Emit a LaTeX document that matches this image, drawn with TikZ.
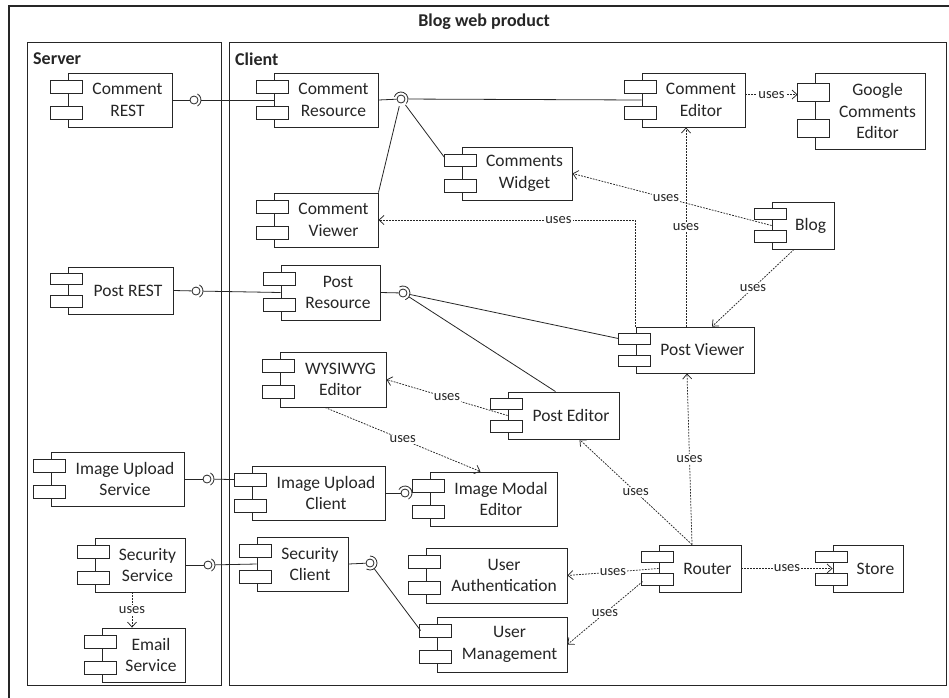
\documentclass[tikz,border=0pt]{standalone}
\usepackage{fontspec}
\setmainfont{Carlito}
\usetikzlibrary{calc,arrows.meta}

\definecolor{ink}{gray}{0.15}

\tikzset{
  compbox/.style={draw=ink, line width=0.9pt, fill=white, inner sep=0pt},
  comptext/.style={text=ink, font=\fontsize{17.5}{21.5}\selectfont, align=center, inner sep=0pt},
  tabbox/.style={draw=ink, line width=0.9pt, fill=white},
  dep/.style={draw=ink, line width=0.75pt, dash pattern=on 1.8pt off 1.2pt,
    -{Straight Barb[length=5pt,width=9pt]}},
  lbl/.style={fill=white, text=ink, font=\fontsize{14.5}{16}\selectfont, inner sep=1pt},
  wire/.style={draw=ink, line width=0.8pt},
  ball/.style={draw=ink, line width=0.8pt, fill=white, circle, minimum size=8pt, inner sep=0pt},
  socket/.style={draw=ink, line width=0.8pt},
  frame/.style={draw=ink, line width=1pt},
  heading/.style={text=ink, font=\fontsize{18}{21}\selectfont\bfseries, inner sep=0pt},
}

% UML component: name, left, top, right, bottom, text
\newcommand\umlcomp[6]{%
  \node[compbox, minimum width={(#4-#2)*1pt}, minimum height={(#5-#3)*1pt}]
    (#1) at ({(#2+#4)/2},{(#3+#5)/2}) {};
  \node[comptext] (#1-t) at ({(#2+#4+15)/2},{(#3+#5)/2}) {#6};
  \draw[tabbox] ($(#1.north west)+(-17,{0.14*(#5-#3)})$) rectangle ++(32,{0.24*(#5-#3)});
  \draw[tabbox] ($(#1.north west)+(-17,{0.62*(#5-#3)})$) rectangle ++(32,{0.24*(#5-#3)});
}

% socket arc around a ball
\newcommand\socketarc[3]{%
  \draw[socket] ($(#1)+(#2:7pt)$) arc[start angle=#2, end angle=#3, radius=7pt];
}

\begin{document}
\begin{tikzpicture}[x=1pt,y=-1pt]
\useasboundingbox (0,0) rectangle (949,697);
\clip (0,0) rectangle (949,697);

% frames
\draw[draw=ink, line width=1.8pt] (9,6) rectangle (975,725);
\node[heading] (title) at (484,22) {Blog web product};
\draw[frame] (27,42) rectangle (221,685);
\draw[frame] (229,42) rectangle (946,685);
\node[heading, anchor=west] (server) at (33,59) {Server};
\node[heading, anchor=west] (client) at (235,59) {Client};

% server components
\umlcomp{crest}{68}{73}{172}{127}{Comment\\REST}
\umlcomp{prest}{68}{267}{173}{314}{Post REST}
\umlcomp{ius}{51}{452}{184}{506}{Image Upload\\Service}
\umlcomp{ss}{95}{538}{185}{592}{Security\\Service}
\umlcomp{es}{102}{628}{185}{682}{Email\\Service}

% client components
\umlcomp{cres}{274}{73}{378}{127}{Comment\\Resource}
\umlcomp{cedit}{642}{73}{745}{127}{Comment\\Editor}
\umlcomp{gce}{815}{73}{925}{149}{Google\\Comments\\Editor}
\umlcomp{cwid}{462}{147}{572}{200}{Comments\\Widget}
\umlcomp{cview}{274}{193}{378}{247}{Comment\\Viewer}
\umlcomp{blog}{772}{202}{834}{249}{Blog}
\umlcomp{pres}{281}{265}{380}{320}{Post\\Resource}
\umlcomp{wys}{280}{352}{386}{407}{WYSIWYG\\Editor}
\umlcomp{pview}{636}{327}{754}{373}{Post Viewer}
\umlcomp{pedit}{508}{392}{619}{439}{Post Editor}
\umlcomp{iuc}{252}{466}{385}{520}{Image Upload\\Client}
\umlcomp{ime}{430}{472}{557}{526}{Image Modal\\Editor}
\umlcomp{sc}{257}{537}{348}{591}{Security\\Client}
\umlcomp{ua}{426}{548}{567}{603}{User\\Authentication}
\umlcomp{um}{437}{617}{567}{672}{User\\Management}
\umlcomp{router}{659}{545}{741}{592}{Router}
\umlcomp{store}{833}{545}{903}{592}{Store}

% provided interfaces (balls)
\node[ball] (b1) at (194,100) {};
\node[ball] (b2) at (401,99) {};
\node[ball] (b3) at (196,291) {};
\node[ball] (b4) at (403,293) {};
\node[ball] (b5) at (207,479) {};
\node[ball] (b6) at (405,493) {};
\node[ball] (b7) at (208,565) {};
\node[ball] (b8) at (370,563) {};

% ball wires
\draw[wire] (crest.east) -- (b1);
\draw[wire] (cres.east) -- (b2);
\draw[wire] (prest.east) -- (b3);
\draw[wire] (pres.east) -- (b4);
\draw[wire] (ius.east) -- (b5);
\draw[wire] (iuc.east) -- (b6);
\draw[wire] (ss.east) -- (b7);
\draw[wire] (sc.east) -- (b8);

% required interfaces (sockets)
\socketarc{b1}{60}{-60}
\socketarc{b2}{160}{-40}
\socketarc{b3}{60}{-60}
\socketarc{b4}{120}{-70}
\socketarc{b5}{60}{-60}
\socketarc{b6}{150}{-60}
\socketarc{b7}{60}{-60}
\socketarc{b8}{90}{-120}

\draw[wire, shorten <=3pt] (b1) -- (cres.west);
\draw[wire, shorten <=3pt] (b2) -- (cedit.west);
\draw[wire, shorten <=3pt] (b2) -- ($(cwid.north west)+(-17,11)$);
\draw[wire, shorten <=3pt] (b2) -- (cview.north east);
\draw[wire, shorten <=3pt] (b3) -- (pres.west);
\draw[wire, shorten <=3pt] (b4) -- ($(pview.north west)+(-17,12)$);
\draw[wire, shorten <=3pt] (b4) -- ([xshift=-8]pedit.north);
\draw[wire, shorten <=3pt] (b5) -- ($(iuc.north west)+(-17,14)$);
\draw[wire, shorten <=3pt] (b6) -- ($(ime.north west)+(-17,18)$);
\draw[wire, shorten <=3pt] (b7) -- (sc.west);
\draw[wire, shorten <=3pt] (b8) -- ($(um.north west)+(-16,14)$);

% usage dependencies
\draw[dep] ($(cedit.north east)+(0,22)$) -- ($(gce.north west)+(-17,22)$) node[midway,lbl]{uses};
\draw[dep] (blog.west) -- (cwid.east) node[pos=0.53,lbl]{uses};
\draw[dep] ([xshift=-9]pview.north) -- ([xshift=-9]pview.north |- cedit.south) node[midway,lbl]{uses};
\draw[dep] (pview.north west) |- (cview.east) node[pos=0.65,lbl]{uses};
\draw[dep] ([xshift=-9]blog.south) -- ([xshift=17]pview.north) node[midway,lbl]{uses};
\draw[dep] (pedit.west) -- (wys.east) node[midway,lbl]{uses};
\draw[dep] ([xshift=-8]wys.south) -- ([xshift=-13]ime.north) node[midway,lbl]{uses};
\draw[dep] ([xshift=-8]router.north) -- ([xshift=-8]pview.south) node[midway,lbl]{uses};
\draw[dep] ([xshift=-8]router.north) -- ([xshift=16]pedit.south) node[midway,lbl]{uses};
\draw[dep] (router.west) -- (ua.east) node[midway,lbl]{uses};
\draw[dep] ($(router.north west)+(-16,37)$) -- (um.east) node[midway,lbl]{uses};
\draw[dep] (router.east) -- (store.west) node[midway,lbl]{uses};
\draw[dep] ([xshift=-8]ss.south) -- ([xshift=-8]ss.south |- es.north) node[midway,lbl]{uses};
\end{tikzpicture}
\end{document}
